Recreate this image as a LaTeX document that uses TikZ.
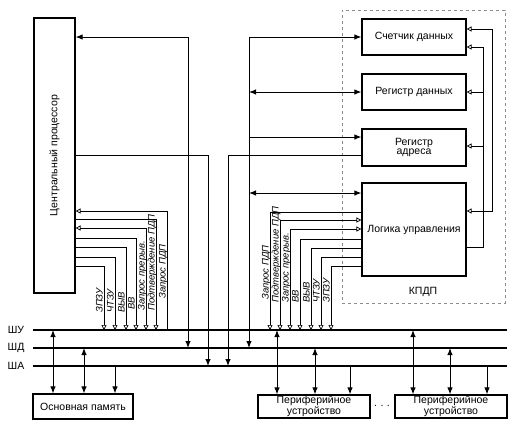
\documentclass[tikz,border=0pt]{standalone}
\usepackage{fontspec}
\setmainfont{Liberation Sans}
\usepackage{graphicx}
\usetikzlibrary{arrows.meta}

\tikzset{
    blk/.style={draw, line width=1.2pt, inner sep=1pt, align=center, font=\fontsize{10.5}{9.5}\selectfont},
    kp/.style={draw=black!45, dashed, line width=0.6pt},
    txt/.style={inner sep=0pt, font=\fontsize{10.5}{10}\selectfont},
    dat/.style={line width=1pt, >={Latex[length=7pt,width=5.5pt]}},
    ctl/.style={line width=0.7pt, >={Triangle[open,length=5pt,width=5pt]}},
    bus/.style={line width=1.3pt},
    sig/.style={rotate=90, anchor=base west, inner sep=0pt, font=\fontsize{9.5}{9}\selectfont\itshape},
}

\begin{document}
\begin{tikzpicture}[x=1pt, y=-1pt]
    \useasboundingbox (0,0) rectangle (518,424);

    % Central processor
    \node[blk, minimum width=41pt, minimum height=275pt] (cpu) at (54.5,155.5) {\rotatebox{90}{Центральный процессор}};

    % DMA controller (KPDP)
    \node[kp, minimum width=163pt, minimum height=293pt] (kpdp) at (423.5,156.5) {};
    \node[txt] (kpdpname) at (423,292) {КПДП};
    \node[blk, minimum width=104pt, minimum height=36pt] (sch) at (414,37) {Счетчик данных};
    \node[blk, minimum width=104pt, minimum height=36pt] (rgd) at (414,92) {Регистр данных};
    \node[blk, minimum width=104pt, minimum height=37pt] (rga) at (414,147.5) {Регистр\\адреса};
    \node[blk, minimum width=104pt, minimum height=93pt] (log) at (414,229.5) {Логика управления};

    % Memory and peripherals
    \node[blk, minimum width=100pt, minimum height=25pt] (mem) at (83,406.5) {Основная память};
    \node[blk, minimum width=112pt, minimum height=23pt] (per1) at (314,406.5) {Периферийное\\устройство};
    \node[blk, minimum width=112pt, minimum height=23pt] (per2) at (451,406.5) {Периферийное\\устройство};
    \node[txt] (dots) at (382,406) {.\,\,.\,\,.};

    % Buses
    \foreach \n/\y/\t in {shu/330/ШУ, shd/348/ШД, sha/366/ША}
    {
        \coordinate (\n) at (33,\y);
        \coordinate (\n-e) at (507,\y);
        \draw[bus] (\n) -- (\n-e);
        \node[txt] (\n-lbl) at (16,\y) {\t};
    }

    % Processor to data and address buses
    \draw[dat,<->] (cpu.east |- 0,37) -| (188,0 |- shd);
    \draw[dat,->] (cpu.east |- 0,155) -| (208,0 |- sha);
    \draw[dat,->] (rga.west |- 0,155) -| (228,0 |- sha);

    % Data bus trunk into the KPDP registers
    \coordinate (trunk) at (249,37);
    \draw[dat,->] (trunk) -- (trunk |- shd);
    \draw[dat,->] (trunk) -- (sch.west);
    \draw[dat,<->] (trunk |- rgd.west) -- (rgd.west);
    \draw[dat,->] (trunk |- 0,137) -- (rga.west |- 0,137);
    \draw[dat,<->] (trunk |- 0,193) -- (log.west |- 0,193);

    % Control logic to the registers
    \draw[ctl,->] (log.east |- 0,247) -| (483,47) -- (sch.east |- 0,47);
    \draw[ctl,->] (483,0 |- rgd.east) -- (rgd.east);
    \draw[ctl,->] (483,146) -- (rga.east |- 0,146);
    \draw[ctl,<->] (sch.east |- 0,29) -| (492,211) -- (log.east |- 0,211);

    % Control signals of the processor
    \foreach \x/\y/\b/\t/\s in {104/266/313/ЗПЗУ/->, 115/257/313/ЧТЗУ/->, 126/247/313/ВЫВ/->, 136/238/310/ВВ/->,
        146/228/311/Запрос прерыв./<->, 156/219/311/Подтверждение ПДП/->, 167/211/299/Запрос ПДП/<-}
    {
        \draw[ctl, arrows/.expanded=\s] (cpu.east |- 0,\y) -| (\x,0 |- shu);
        \node[sig] (cs\x) at (\x-1.5,\b) {\t};
    }

    % Control signals of the KPDP
    \foreach \x/\y/\b/\t/\s in {270/212/300/Запрос ПДП/->, 280/220/303/Подтверждение ПДП/<->, 290/229/303/Запрос прерыв./<->,
        300/239/303/ВВ/->, 311/248/303/ВЫВ/->, 321/257/303/ЧТЗУ/->, 331/266/303/ЗПЗУ/->}
    {
        \draw[ctl, arrows/.expanded=\s] (log.west |- 0,\y) -| (\x,0 |- shu);
        \node[sig] (ks\x) at (\x-1.5,\b) {\t};
    }

    % Memory on the buses
    \draw[dat,<->] (53,0 |- shu) -- (53,0 |- mem.north);
    \draw[dat,<->] (84,0 |- shd) -- (84,0 |- mem.north);
    \draw[dat,->] (115,0 |- sha) -- (115,0 |- mem.north);

    % Peripherals on the buses
    \foreach \p/\a/\b/\c in {per1/277/315/350, per2/413/450/487}
    {
        \draw[dat,<->] (\a,0 |- shu) -- (\a,0 |- \p.north);
        \draw[dat,<->] (\b,0 |- shd) -- (\b,0 |- \p.north);
        \draw[dat,->] (\c,0 |- sha) -- (\c,0 |- \p.north);
    }
\end{tikzpicture}
\end{document}
